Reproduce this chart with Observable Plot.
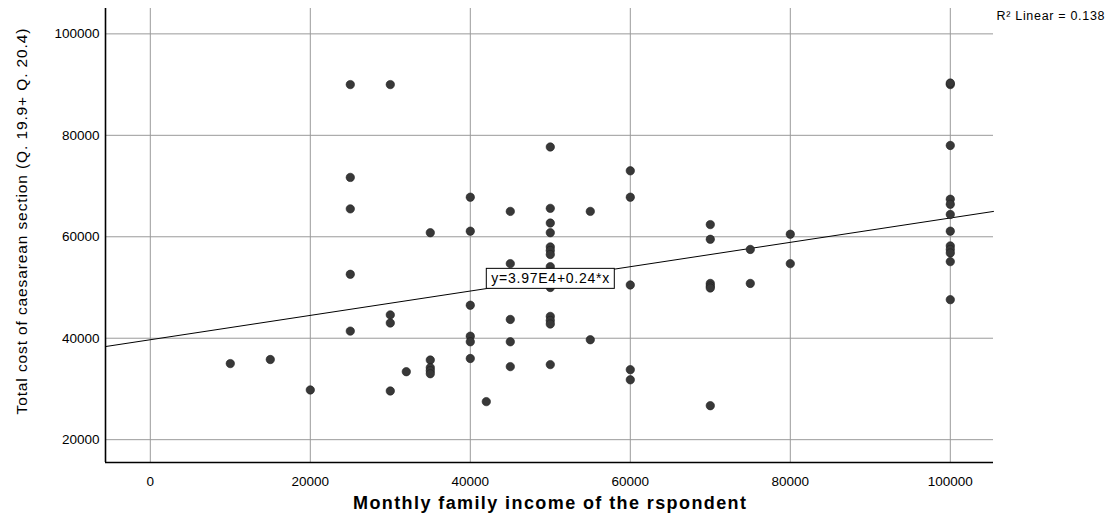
<!DOCTYPE html>
<html>
<head>
<meta charset="utf-8">
<script src="https://cdn.jsdelivr.net/npm/d3@7"></script>
<script src="https://cdn.jsdelivr.net/npm/@observablehq/plot@0.6"></script>
<style>
  html, body { margin: 0; padding: 0; background: #fff; }
  svg { font-family: "Liberation Sans", Arial, sans-serif; }
</style>
</head>
<body>
<div id="chart"></div>
<script>
// Monthly family income of the respondent (x) and total cost of caesarean section (y)
const income = [
  10000, 15000, 20000,
  25000, 25000, 25000, 25000, 25000,
  30000, 30000, 30000, 30000,
  32000,
  35000, 35000, 35000, 35000, 35000,
  40000, 40000, 40000, 40000, 40000, 40000,
  42000,
  45000, 45000, 45000, 45000, 45000,
  50000, 50000, 50000, 50000, 50000, 50000, 50000, 50000, 50000, 50000, 50000, 50000, 50000,
  55000, 55000,
  60000, 60000, 60000, 60000, 60000,
  70000, 70000, 70000, 70000, 70000, 70000,
  75000, 75000,
  80000, 80000,
  100000, 100000, 100000, 100000, 100000, 100000, 100000, 100000, 100000, 100000, 100000, 100000
];
const cost = [
  35000, 35800, 29800,
  90000, 71700, 65500, 52600, 41400,
  90000, 44600, 43000, 29600,
  33400,
  60800, 35700, 34200, 33600, 33000,
  67800, 61100, 46500, 40400, 39300, 36000,
  27500,
  65000, 54700, 43700, 39300, 34400,
  77700, 65600, 62700, 60800, 58000, 57300, 56500, 54100, 50000, 44300, 43500, 42800, 34800,
  65000, 39700,
  73000, 67800, 50500, 33800, 31800,
  62400, 59500, 50800, 50300, 49900, 26700,
  57500, 50800,
  60500, 54700,
  90000, 90300, 78000, 67400, 66400, 64400, 61100, 58200, 57500, 56800, 55100, 47600
];

const xTicks = [0, 20000, 40000, 60000, 80000, 100000];
const yTicks = [20000, 40000, 60000, 80000, 100000];
const xDomain = [-5600, 105400];
const yDomain = [15500, 105000];

// Fit line as stated in the chart
const intercept = 39700;
const slope = 0.24;
const eqLabel = "y=3.97E4+0.24*x";
const eqAtX = 50000;
const r2Label = "R\u00B2 Linear = 0.138";

const xTitle = "Monthly family income of the rspondent";
const yTitle = "Total cost of caesarean section (Q. 19.9+ Q. 20.4)";

const points = income.map((x, i) => ({x, y: cost[i]}));
const fitLine = xDomain.map(x => ({x, y: intercept + slope * x}));

const chart = Plot.plot({
  width: 1108,
  height: 516,
  marginLeft: 105,
  marginRight: 115,
  marginTop: 8,
  marginBottom: 54,
  style: {fontFamily: "'Liberation Sans', Arial, sans-serif", background: "#fff", color: "#000"},
  x: {domain: xDomain},
  y: {domain: yDomain},
  marks: [
    Plot.gridX(xTicks, {stroke: "#9a9a9a", strokeOpacity: 1, strokeWidth: 1}),
    Plot.gridY(yTicks, {stroke: "#9a9a9a", strokeOpacity: 1, strokeWidth: 1}),
    Plot.axisX(xTicks, {tickSize: 0, tickPadding: 14, tickFormat: d => String(d), fontSize: 13.5, label: null, fill: "#000"}),
    Plot.axisY(yTicks, {tickSize: 0, tickPadding: 6, tickFormat: d => String(d), fontSize: 13.5, label: null, fill: "#000"}),
    Plot.ruleX([xDomain[0]], {stroke: "#000", strokeWidth: 1.6}),
    Plot.ruleY([yDomain[0]], {stroke: "#000", strokeWidth: 1.6}),
    Plot.line(fitLine, {x: "x", y: "y", stroke: "#000", strokeWidth: 1}),
    Plot.dot(points, {x: "x", y: "y", r: 4.2, fill: "#383838", stroke: "#1e1e1e", strokeWidth: 0.6}),
    Plot.text([eqLabel], {x: eqAtX, y: intercept + slope * eqAtX, text: d => d, fontSize: 14, fill: "#000", textAnchor: "middle", lineAnchor: "middle"}),
    Plot.text([r2Label], {frameAnchor: "top-right", text: d => d, textAnchor: "start", lineAnchor: "middle", dx: 3, dy: 7, fontSize: 12.5, fill: "#000"}),
    Plot.text([xTitle], {frameAnchor: "bottom", text: d => d, textAnchor: "middle", fontSize: 18, fontWeight: "bold", lineAnchor: "middle", dy: 41, fill: "#000"}),
    Plot.text([yTitle], {frameAnchor: "left", text: d => d, textAnchor: "middle", fontSize: 15.5, rotate: -90, lineAnchor: "middle", dx: -83, dy: -14, fill: "#000"})
  ]
});

document.getElementById("chart").appendChild(chart);

// stretch titles to the reference's wide lettering, then box the equation label
const svgNS = "http://www.w3.org/2000/svg";
const stretch = new Map([[xTitle, 393], [yTitle, 386], [eqLabel, 118], [r2Label, 108]]);
chart.querySelectorAll("text").forEach(t => {
  const s = t.textContent;
  if (stretch.has(s)) {
    t.setAttribute("textLength", stretch.get(s));
    t.setAttribute("lengthAdjust", "spacing");
  }
  if (s === eqLabel) {
    const bb = t.getBBox();
    const rect = document.createElementNS(svgNS, "rect");
    const padX = 5, padY = 2;
    rect.setAttribute("x", bb.x - padX);
    rect.setAttribute("y", bb.y - padY);
    rect.setAttribute("width", bb.width + 2 * padX);
    rect.setAttribute("height", bb.height + 2 * padY);
    rect.setAttribute("fill", "#fff");
    rect.setAttribute("stroke", "#000");
    rect.setAttribute("stroke-width", "1");
    const tr = t.getAttribute("transform");
    if (tr) rect.setAttribute("transform", tr);
    t.parentNode.insertBefore(rect, t);
  }
});
</script>
</body>
</html>
